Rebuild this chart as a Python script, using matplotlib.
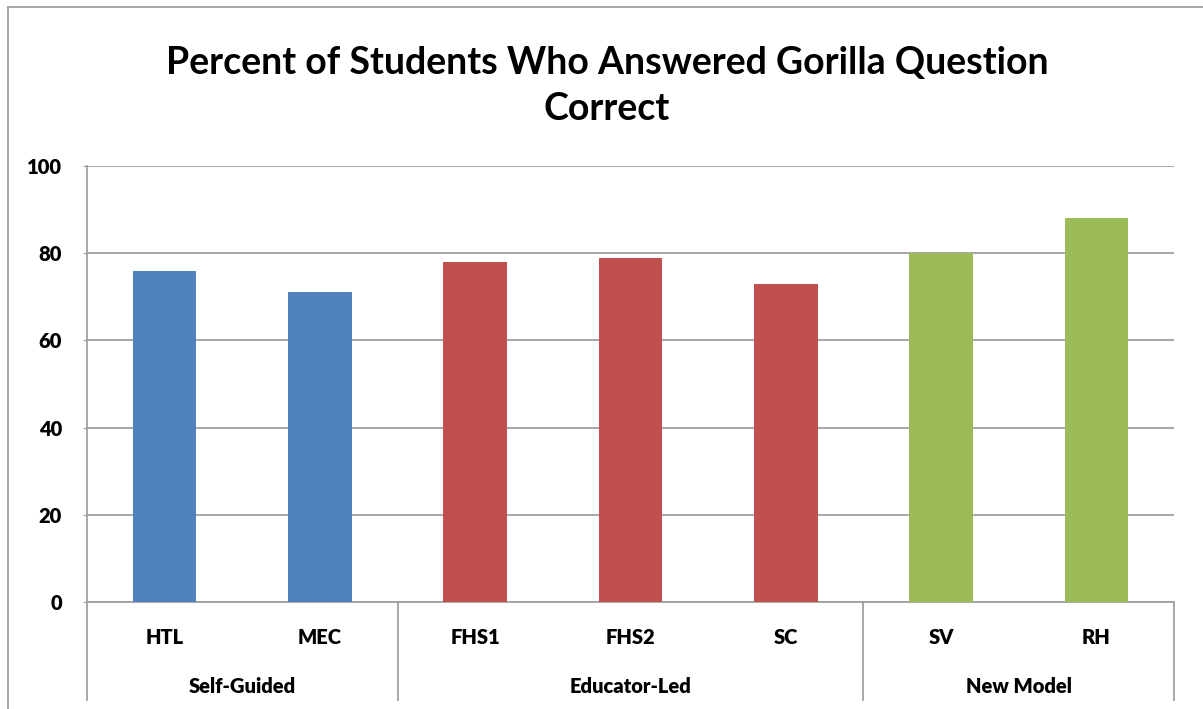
import matplotlib
matplotlib.use("Agg")
import matplotlib.pyplot as plt
from matplotlib.lines import Line2D
import numpy as np

# data
labels = ["HTL", "MEC", "FHS1", "FHS2", "SC", "SV", "RH"]
values = [76, 71, 78, 79, 73, 80, 88]
groups = ["Self-Guided", "Educator-Led", "New Model"]
group_sizes = [2, 3, 2]
group_colors = ["#4F81BD", "#C0504D", "#9BBB59"]

plt.rcParams['font.family'] = ['Lato', 'DejaVu Sans']

W, H = 1203, 709
fig = plt.figure(figsize=(W / 100, H / 100), dpi=100)
# plot area in pixels: x 87..1174, y 166..602
ax = fig.add_axes([87 / W, 1 - 602 / H, (1174 - 87) / W, (602 - 166) / H])

bar_colors = []
for c, n in zip(group_colors, group_sizes):
    bar_colors += [c] * n

x = np.arange(len(labels))
ax.bar(x, values, width=0.41, color=bar_colors, zorder=3)
ax.set_xlim(-0.5, len(labels) - 0.5)
ax.set_ylim(0, 100)
ax.set_yticks([0, 20, 40, 60, 80, 100])
ax.tick_params(axis='y', labelsize=14.5, length=3, color='#A0A0A0', pad=15)
for t in ax.get_yticklabels():
    t.set_fontweight('heavy')
ax.set_xticks([])
ax.yaxis.grid(True, color='#A0A0A0', linewidth=1.3, zorder=0)

for s in ['top', 'right']:
    ax.spines[s].set_visible(False)
ax.spines['left'].set_color('#A0A0A0')
ax.spines['left'].set_linewidth(1.3)
ax.spines['bottom'].set_color('#A0A0A0')
ax.spines['bottom'].set_linewidth(1.3)

# category labels and grouping lines below axis
tr = ax.get_xaxis_transform()
for i, lab in enumerate(labels):
    ax.text(i, -0.082, lab, transform=tr, ha='center', va='center',
            fontsize=14.5, fontweight='heavy')
bounds = np.concatenate([[0], np.cumsum(group_sizes)]) - 0.5
for b in bounds:
    ax.add_line(Line2D([b, b], [0, -0.225], transform=tr, color='#A0A0A0',
                       linewidth=1.3, clip_on=False))
for g, lo, hi in zip(groups, bounds[:-1], bounds[1:]):
    ax.text((lo + hi) / 2, -0.194, g, transform=tr, ha='center', va='center',
            fontsize=14.5, fontweight='heavy')

fig.suptitle("Percent of Students Who Answered Gorilla Question\nCorrect",
             x=607 / W, y=1 - 86 / H, va='center', fontsize=27,
             fontweight='bold', linespacing=1.4)

# outer chart border
fig.add_artist(Line2D([8 / W, 8 / W], [0, 1 - 7 / H], transform=fig.transFigure,
                      color='#A0A0A0', linewidth=1.3))
fig.add_artist(Line2D([8 / W, 1], [1 - 7 / H, 1 - 7 / H], transform=fig.transFigure,
                      color='#A0A0A0', linewidth=1.3))

fig.savefig("out.png", dpi=100)
